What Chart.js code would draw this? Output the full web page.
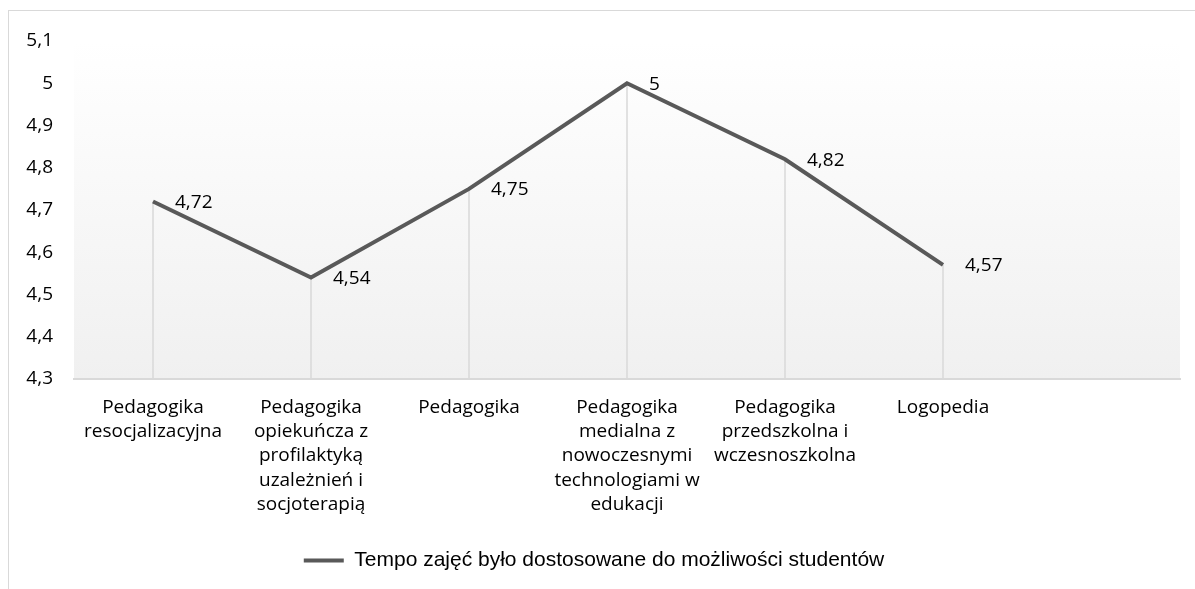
<!DOCTYPE html>
<html>
<head>
<meta charset="utf-8">
<script src="https://cdn.jsdelivr.net/npm/chart.js@4.4.1/dist/chart.umd.min.js"></script>
<style>
  html, body { margin: 0; padding: 0; background: #fff; }
  #wrap { position: relative; width: 1195px; height: 589px; }
  #frame { position: absolute; left: 8px; top: 10px; width: 1200px; height: 600px; border: 1px solid #d9d9d9; box-sizing: border-box; }
  canvas { position: absolute; left: 0; top: 0; }
</style>
</head>
<body>
<div id="wrap">
  <div id="frame"></div>
  <canvas id="myChart" width="1195" height="589"></canvas>
</div>
<script>
const categories = [
  ['Pedagogika', 'resocjalizacyjna'],
  ['Pedagogika', 'opiekuńcza z', 'profilaktyką', 'uzależnień i', 'socjoterapią'],
  ['Pedagogika'],
  ['Pedagogika', 'medialna z', 'nowoczesnymi', 'technologiami w', 'edukacji'],
  ['Pedagogika', 'przedszkolna i', 'wczesnoszkolna'],
  ['Logopedia'],
  ''
];
const seriesName = 'Tempo zajęć było dostosowane do możliwości studentów';
const values = [4.72, 4.54, 4.75, 5, 4.82, 4.57, null];
const yMin = 4.3, yMax = 5.1, yStep = 0.1;

const fmt = v => String(Number(v.toFixed(2))).replace('.', ',');
const FONT = '"Open Sans", sans-serif';

// gradient fill behind the plot area
const plotBg = {
  id: 'plotBg',
  beforeDraw(chart) {
    const { ctx, chartArea: a } = chart;
    const g = ctx.createLinearGradient(0, a.top, 0, a.bottom);
    g.addColorStop(0, '#ffffff');
    g.addColorStop(1, '#f0f0f0');
    ctx.save();
    ctx.fillStyle = g;
    ctx.fillRect(a.left, a.top, a.right - a.left, a.bottom - a.top);
    ctx.restore();
  }
};

// drop lines from each point to the axis, and value labels
const dropLines = {
  id: 'dropLines',
  beforeDatasetsDraw(chart) {
    const { ctx, chartArea: a } = chart;
    const meta = chart.getDatasetMeta(0);
    ctx.save();
    ctx.strokeStyle = '#d9d9d9';
    ctx.lineWidth = 1.5;
    meta.data.forEach((p, i) => {
      if (values[i] == null) return;
      ctx.beginPath();
      ctx.moveTo(p.x, p.y);
      ctx.lineTo(p.x, a.bottom);
      ctx.stroke();
    });
    ctx.restore();
  },
  afterDatasetsDraw(chart) {
    const { ctx } = chart;
    const meta = chart.getDatasetMeta(0);
    ctx.save();
    ctx.fillStyle = '#000';
    ctx.font = '19px ' + FONT;
    ctx.textAlign = 'left';
    ctx.textBaseline = 'middle';
    meta.data.forEach((p, i) => {
      if (values[i] == null) return;
      ctx.fillText(fmt(values[i]), p.x + 22, p.y + 1);
    });
    ctx.restore();
  }
};

const ctx = document.getElementById('myChart');
const myChart = new Chart(ctx, {
  type: 'line',
  data: {
    labels: categories,
    datasets: [{
      label: seriesName,
      data: values,
      borderColor: '#595959',
      backgroundColor: '#595959',
      borderWidth: 4,
      pointRadius: 0,
      tension: 0,
      pointStyle: 'line'
    }]
  },
  options: {
    responsive: false,
    animation: false,
    layout: { padding: { left: 8, right: 15, top: 41, bottom: 8 } },
    scales: {
      x: {
        offset: true,
        grid: { display: false, drawTicks: false },
        border: { color: '#d9d9d9', width: 2 },
        afterFit: s => { s.height = 161; },
        ticks: {
          color: '#000',
          font: { family: FONT, size: 19, lineHeight: 1.28 },
          maxRotation: 0,
          autoSkip: false,
          padding: 16
        }
      },
      y: {
        min: yMin,
        max: yMax,
        grid: { display: false, drawTicks: false },
        border: { display: false },
        afterFit: s => { s.width = 66; },
        ticks: {
          stepSize: yStep,
          color: '#000',
          font: { family: FONT, size: 19 },
          padding: 21,
          callback: v => fmt(v)
        }
      }
    },
    plugins: {
      legend: {
        position: 'bottom',
        labels: {
          color: '#000',
          font: { family: '"Liberation Sans Narrow", "Liberation Sans", sans-serif', size: 21 },
          usePointStyle: true,
          pointStyleWidth: 40,
          padding: 10
        }
      },
      tooltip: { enabled: false }
    }
  },
  plugins: [plotBg, dropLines]
});
</script>
</body>
</html>
